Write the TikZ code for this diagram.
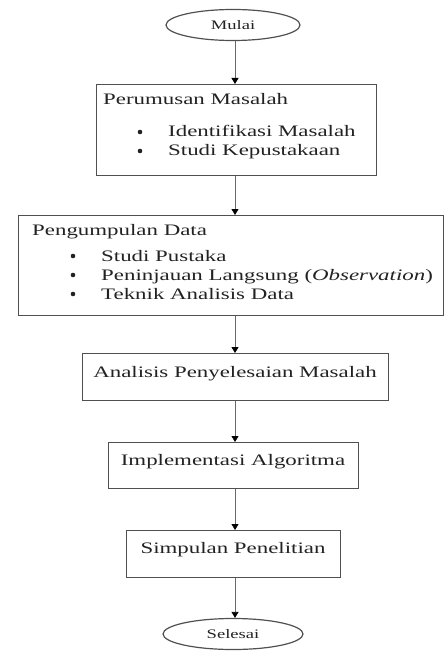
\documentclass[tikz,border=0pt]{standalone}
\usepackage{graphicx}
\usepackage{fontspec}
\setmainfont{Liberation Serif}
\usetikzlibrary{shapes.geometric,arrows.meta}
\definecolor{edge}{HTML}{505050}
\definecolor{ink}{HTML}{222222}
\newcommand\wtxt[1]{\scalebox{1.43}[1]{#1}}
\tikzset{
  box/.style={draw=edge,line width=1.4pt,rectangle,inner sep=0pt},
  oval/.style={draw=edge,line width=1.2pt,ellipse,inner sep=0pt,text=ink,font=\fontsize{13}{15}\selectfont},
  flow/.style={draw=edge!85,line width=0.8pt,-{Triangle[length=6pt,width=7pt,fill=black,color=black]}},
  lbl/.style={text=ink,font=\fontsize{16}{18}\selectfont,inner sep=0pt},
  dot/.style={fill=ink,circle,inner sep=0pt,minimum size=4.6pt},
}
\begin{document}
\begin{tikzpicture}[x=1pt,y=-1pt]
\useasboundingbox (0,0) rectangle (445,652);
% start
\node[oval,minimum width=134pt,minimum height=31pt] (mulai) at (233,25) {\wtxt{Mulai}};
\coordinate (ax) at (235,41);
% box 1
\node[box,minimum width=280pt,minimum height=91pt,anchor=north west] (b1) at (96,84) {};
\node[lbl,anchor=base west] (t1) at (103,105) {\wtxt{Perumusan Masalah}};
\node[dot] (d11) at (140,132) {};
\node[lbl,anchor=base west] (i11) at (168,137) {\wtxt{Identifikasi Masalah}};
\node[dot] (d12) at (140,151) {};
\node[lbl,anchor=base west] (i12) at (168,156) {\wtxt{Studi Kepustakaan}};
% box 2
\node[box,minimum width=425pt,minimum height=100pt,anchor=north west] (b2) at (18,215) {};
\node[lbl,anchor=base west] (t2) at (32,235) {\wtxt{Pengumpulan Data}};
\node[dot] (d21) at (73,256) {};
\node[lbl,anchor=base west] (i21) at (101,261) {\wtxt{Studi Pustaka}};
\node[dot] (d22) at (73,275) {};
\node[lbl,anchor=base west] (i22) at (101,280) {\wtxt{Peninjauan Langsung (\textit{Observation})}};
\node[dot] (d23) at (73,294) {};
\node[lbl,anchor=base west] (i23) at (101,299) {\wtxt{Teknik Analisis Data}};
% box 3
\node[box,minimum width=306pt,minimum height=47pt,anchor=north west] (b3) at (82,353) {};
\node[lbl] (t3) at (235,374) {\wtxt{Analisis Penyelesaian Masalah}};
% box 4
\node[box,minimum width=250pt,minimum height=46pt,anchor=north west] (b4) at (108,442) {};
\node[lbl] (t4) at (233,462) {\wtxt{Implementasi Algoritma}};
% box 5
\node[box,minimum width=214pt,minimum height=47pt,anchor=north west] (b5) at (126,530) {};
\node[lbl] (t5) at (233,550) {\wtxt{Simpulan Penelitian}};
% end
\node[oval,minimum width=140pt,minimum height=31pt] (selesai) at (233,634) {\wtxt{Selesai}};
% arrows
\draw[flow] (ax) -- (ax |- b1.north);
\draw[flow] (b1.south -| ax) -- (b2.north -| ax);
\draw[flow] (b2.south -| ax) -- (b3.north -| ax);
\draw[flow] (b3.south -| ax) -- (b4.north -| ax);
\draw[flow] (b4.south -| ax) -- (b5.north -| ax);
\draw[flow] (b5.south -| ax) -- (selesai.north -| ax);
\end{tikzpicture}
\end{document}
